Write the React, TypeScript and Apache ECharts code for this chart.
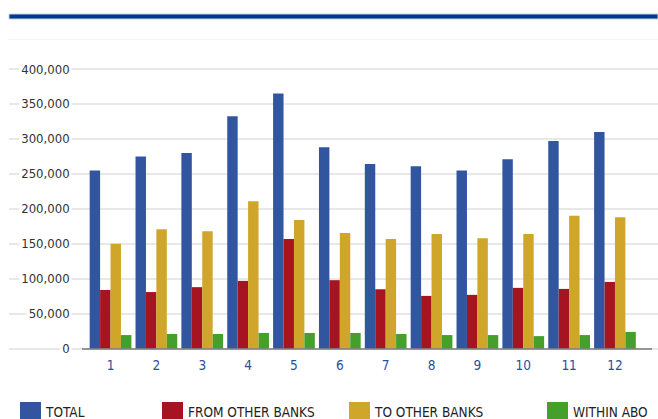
import React, { useEffect, useRef } from "react";
import * as echarts from "echarts";

const months = ["1", "2", "3", "4", "5", "6", "7", "8", "9", "10", "11", "12"];
const seriesNames = ["TOTAL", "FROM OTHER BANKS", "TO OTHER BANKS", "WITHIN ABO"];
const total = [255000, 275000, 280000, 332500, 365000, 288000, 264000, 261000, 255000, 271000, 297000, 310000];
const fromOther = [84000, 81000, 88000, 97000, 157000, 98000, 85000, 75500, 77000, 87000, 85500, 95500];
const toOther = [150000, 171000, 168000, 211000, 184000, 165500, 157000, 164000, 158000, 164000, 190000, 188000];
const withinAbo = [19500, 21000, 21000, 22500, 22500, 22500, 21000, 19500, 19500, 18000, 19500, 24000];
const colors = ["#31569F", "#A51420", "#CFA629", "#44A02A"];
const legendLefts = [20, 162, 349, 547];

const FONT = "'Liberation Sans Narrow', 'DejaVu Sans Condensed', 'Liberation Sans', sans-serif";

export default function App() {
  const ref = useRef<HTMLDivElement>(null);
  useEffect(() => {
    if (!ref.current) return;
    const chart = echarts.init(ref.current, undefined, { renderer: "svg" });
    const seriesData = [total, fromOther, toOther, withinAbo];
    const option: any = {
      animation: false,
      backgroundColor: "#ffffff",
      textStyle: { fontFamily: FONT },
      grid: [
        { left: 87.6, right: 20.1, top: 69, bottom: 70.3 },
        { left: 9, right: 0, top: 69, bottom: 70.3 },
      ],
      xAxis: [
        {
          type: "category",
          gridIndex: 0,
          data: months,
          axisLine: { show: false },
          axisTick: { show: false },
          axisLabel: { color: "#27519C", fontSize: 13.5, margin: 9, fontFamily: FONT },
        },
        {
          type: "category",
          gridIndex: 1,
          data: months,
          show: false,
        },
      ],
      yAxis: [
        {
          type: "value",
          gridIndex: 0,
          min: 0,
          max: 400000,
          interval: 50000,
          axisLine: { show: false },
          axisTick: { show: false },
          splitLine: { show: false },
          z: 5,
          axisLabel: {
            color: "#333333",
            fontSize: 13,
            margin: 16,
            fontFamily: FONT,
            backgroundColor: "#ffffff",
            padding: [1, 2, 1, 2],
            formatter: (v: number) => v.toLocaleString("en-US"),
          },
        },
        {
          type: "value",
          gridIndex: 1,
          min: 0,
          max: 400000,
          interval: 50000,
          axisLine: { show: false },
          axisTick: { show: false },
          axisLabel: { show: false },
          z: 0,
          splitLine: { show: true, lineStyle: { color: "#e8e8e8", width: 2 } },
        },
      ],
      legend: seriesNames.map((n, i) => ({
        data: [n],
        left: legendLefts[i],
        top: 402,
        padding: 0,
        itemWidth: 21,
        itemHeight: 20,
        icon: "rect",
        selectedMode: false,
        textStyle: { fontSize: 13.5, lineHeight: 13, color: "#222222", fontFamily: FONT },
      })),
      series: seriesNames.map((n, i) => ({
        name: n,
        type: "bar",
        xAxisIndex: 0,
        yAxisIndex: 0,
        data: seriesData[i],
        barGap: "0%",
        barCategoryGap: "9%",
        itemStyle: { color: colors[i] },
        z: 3,
      })),
      graphic: [
        {
          type: "rect",
          shape: { x: 9, y: 14, width: 649, height: 5 },
          style: { fill: "#003A8C", stroke: "#C5D0E3", lineWidth: 1 },
        },
        {
          type: "line",
          shape: { x1: 8, y1: 39.5, x2: 658, y2: 39.5 },
          style: { stroke: "#f3f3f3", lineWidth: 1 },
        },
        {
          type: "line",
          z: 100,
          shape: { x1: 82, y1: 349, x2: 652, y2: 349 },
          style: { stroke: "#7a7a7a", lineWidth: 1.5 },
        },
      ],
    };
    chart.setOption(option);
    return () => chart.dispose();
  }, []);
  return (
    <div
      ref={ref}
      style={{ position: "fixed", left: 0, top: 0, width: 658, height: 419 }}
    />
  );
}
